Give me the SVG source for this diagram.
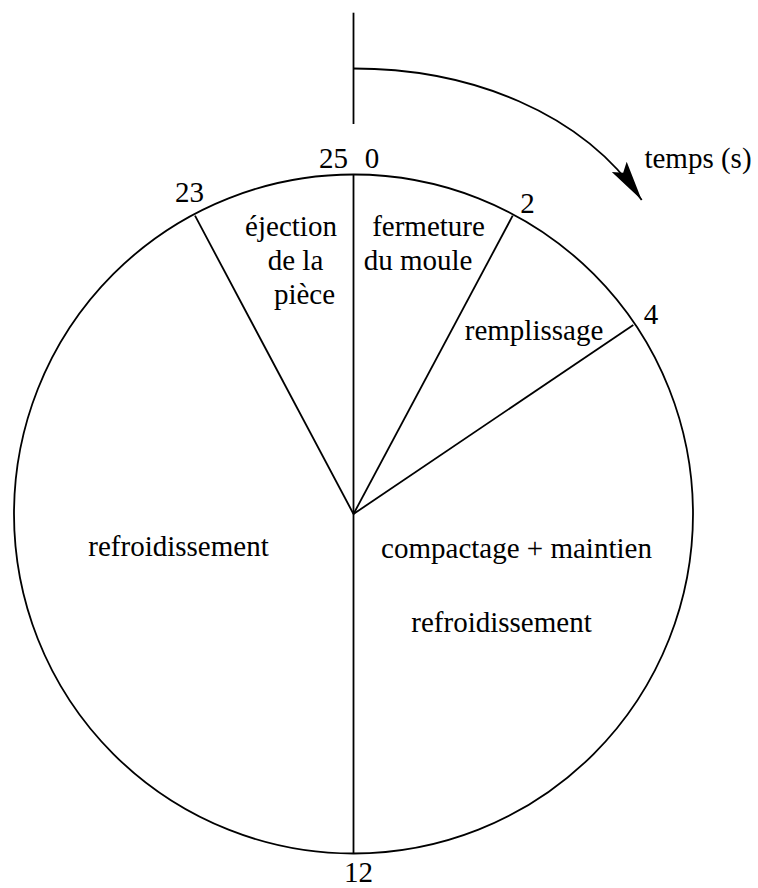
<svg xmlns="http://www.w3.org/2000/svg" width="758" height="888" viewBox="0 0 758 888">
<style>
.ln{fill:none;stroke:#000;stroke-width:1.8}
.t{font-family:'Liberation Serif','DejaVu Serif',serif;font-size:29px;fill:#000;text-anchor:middle}
</style>
<defs>
<marker id="ah" markerUnits="userSpaceOnUse" markerWidth="50" markerHeight="30" refX="0" refY="0" viewBox="-45 -15 50 30" orient="auto">
<path d="M0,0 L-40,-9 L-33,0 L-40,9 Z" fill="#000"/>
</marker>
</defs>
<rect width="758" height="888" fill="#fff"/>
<g id="cycle">
<circle class="ln" cx="353.5" cy="514" r="339.5"/>
</g>
<g id="connectors">
<line class="ln" x1="353.5" y1="175" x2="353.5" y2="853"/>
<line class="ln" x1="353.5" y1="514" x2="195" y2="215.7"/>
<line class="ln" x1="353.5" y1="514" x2="512.7" y2="215.7"/>
<line class="ln" x1="353.5" y1="514" x2="633.3" y2="325"/>
<line class="ln" x1="353.5" y1="12.7" x2="353.5" y2="124"/>
<path class="ln" d="M353.5,68.5 C470,68.5 582,112 641.7,200" marker-end="url(#ah)"/>
</g>
<g id="ticks" font-family="Liberation Serif, DejaVu Serif, serif">
<text class="t" x="333.5" y="168">25</text>
<text class="t" x="372" y="168">0</text>
<text class="t" x="189.5" y="202">23</text>
<text class="t" x="527.5" y="213">2</text>
<text class="t" x="651" y="324">4</text>
<text class="t" x="358.5" y="882">12</text>
<text class="t" x="698" y="168">temps (s)</text>
</g>
<g id="ejection">
<text class="t" x="291" y="236">éjection</text>
<text class="t" x="295.5" y="270">de la</text>
<text class="t" x="304.5" y="304">pièce</text>
</g>
<g id="fermeture">
<text class="t" x="428.5" y="236">fermeture</text>
<text class="t" x="418" y="270">du moule</text>
</g>
<g id="remplissage">
<text class="t" x="534" y="340">remplissage</text>
</g>
<g id="refroidissement-gauche">
<text class="t" x="178.5" y="556">refroidissement</text>
</g>
<g id="compactage">
<text class="t" x="516.5" y="558">compactage + maintien</text>
<text class="t" x="501.5" y="632">refroidissement</text>
</g>
</svg>
